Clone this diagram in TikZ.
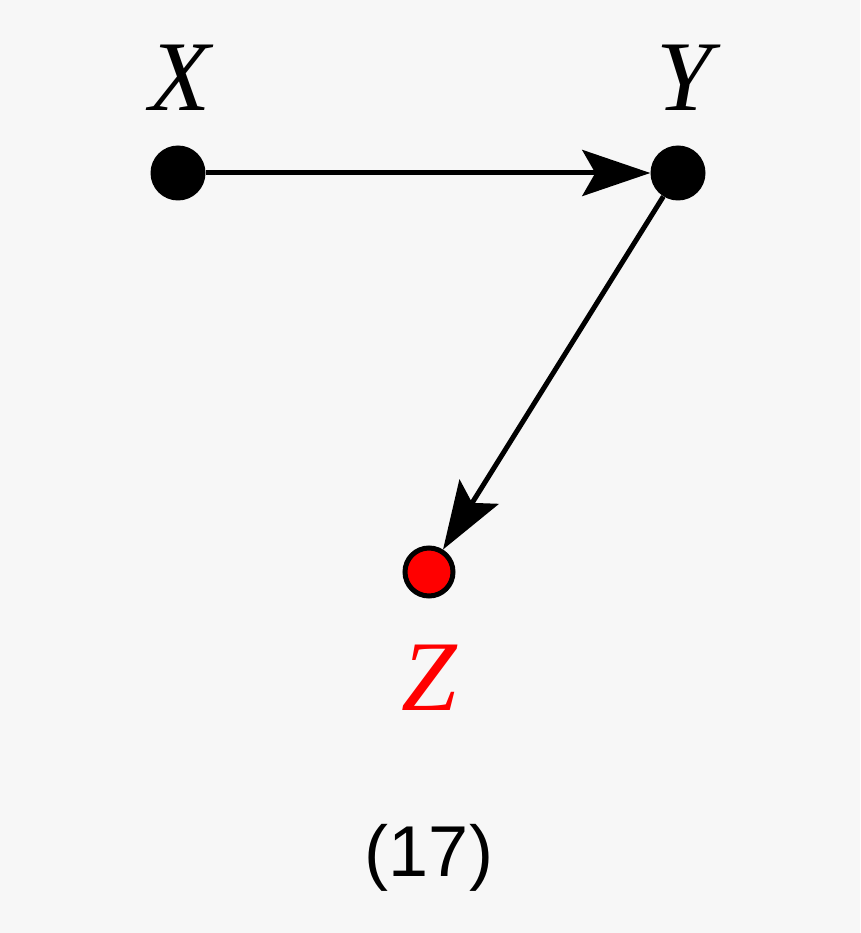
\documentclass[tikz,border=0pt]{standalone}
\usepackage{fontspec}
\setmainfont{Liberation Serif}
\newfontfamily\capfont{Liberation Sans}
\usetikzlibrary{arrows.meta,positioning}
\definecolor{bgray}{HTML}{F7F7F7}

\begin{document}
\begin{tikzpicture}[x=1pt,y=-1pt,
    vert/.style={circle,fill=black,minimum size=55pt,inner sep=0pt},
    redvert/.style={circle,fill=red,draw=black,line width=5pt,minimum size=48pt,inner sep=0pt},
    lab/.style={font=\fontsize{100}{100}\selectfont\itshape},
    edge/.style={line width=5pt,-{Stealth[length=68pt,width=46pt,inset=13pt]}}]
  % background
  \fill[bgray] (0,0) rectangle (860,933);
  \useasboundingbox (0,0) rectangle (860,933);

  % vertices
  \node[vert] (x) at (178,173) {};
  \node[vert] (y) at (678,173) {};
  \node[redvert] (z) at (429,572) {};

  % labels
  \node[lab] (xl) at (180,78) {X};
  \node[lab] (yl) at (684,78) {Y};
  \node[lab,red] (zl) at (429,678) {Z};
  \node[font=\fontsize{72}{72}\selectfont\capfont] (cap) at (429,858) {(17)};

  % edges
  \draw[edge] (x) -- (y);
  \draw[edge] (y) -- (z);
\end{tikzpicture}
\end{document}
